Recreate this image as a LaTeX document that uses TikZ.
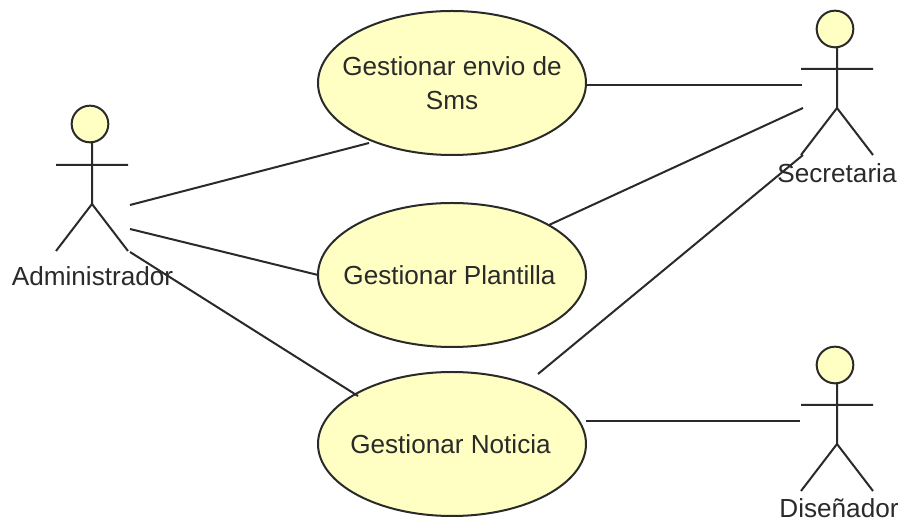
\documentclass[tikz,border=0pt]{standalone}
\usepackage{fontspec}
\setmainfont{Liberation Sans}
\usetikzlibrary{shapes.geometric}
\definecolor{fillY}{HTML}{FFFFC4}
\definecolor{ink}{HTML}{2A2A2A}
\tikzset{
  uc/.style={ellipse,draw=ink,line width=1.5pt,fill=fillY,inner sep=-40pt,outer sep=0pt,minimum width=201pt,minimum height=108pt,align=center,font=\fontsize{19.6}{26}\selectfont,text=ink},
  lbl/.style={font=\fontsize{19.6}{24}\selectfont,inner sep=0pt,text=ink},
  conn/.style={draw=ink,line width=1.5pt},
  head/.style={circle,draw=ink,line width=1.5pt,fill=fillY,minimum size=27.5pt,inner sep=0pt}
}
\begin{document}
\begin{tikzpicture}[x=0.75pt,y=-0.75pt]
\useasboundingbox (0,0) rectangle (903,523);
\fill[white] (0,0) rectangle (903,523);
% use cases
\node[uc] (u1) at (452,83) {Gestionar envio de\\Sms};
\node[uc] (u2) at (452,275) {Gestionar Plantilla\kern3.75pt};
\node[uc] (u3) at (452,444) {Gestionar Noticia\kern2.25pt};
% actors: Administrador
\node[head] (ah) at (90,124) {};
\coordinate (an) at (92,142);
\coordinate (ab) at (92,204);
\coordinate (aal) at (56,165);
\coordinate (aar) at (128,165);
\coordinate (all) at (56,251);
\coordinate (alr) at (128,251);
\draw[conn] (an) -- (ab) (aal) -- (aar) (all) -- (ab) -- (alr);
\node[lbl] (al) at (92.5,276) {Administrador};
% Secretaria
\node[head] (sh) at (835,29) {};
\coordinate (sn) at (837,47);
\coordinate (sb) at (837,108);
\coordinate (sal) at (801,69);
\coordinate (sar) at (873,69);
\coordinate (sll) at (801,155);
\coordinate (slr) at (873,155);
\draw[conn] (sn) -- (sb) (sal) -- (sar) (sll) -- (sb) -- (slr);
\node[lbl] (sl) at (837,173) {Secretaria};
% Disenador
\node[head] (dh) at (835,365) {};
\coordinate (dn) at (837,383);
\coordinate (db) at (837,444);
\coordinate (dal) at (801,405);
\coordinate (dar) at (873,405);
\coordinate (dll) at (801,491);
\coordinate (dlr) at (873,491);
\draw[conn] (dn) -- (db) (dal) -- (dar) (dll) -- (db) -- (dlr);
\node[lbl] (dl) at (839,508) {Diseñador};
% connector ends
\coordinate (a1) at (130,205);
\coordinate (a2) at (130,229);
\coordinate (a3) at (130,252);
\coordinate (s1) at (802,85);
\coordinate (s2) at (803,108);
\coordinate (s3) at (803,155);
\coordinate (d1) at (800,421);
\coordinate (e1) at (369,143);
\coordinate (e2) at (318,275);
\coordinate (e3) at (358,396);
\coordinate (e4) at (586,85);
\coordinate (e5) at (549,225);
\coordinate (e6) at (538,374);
\coordinate (e7) at (586,421);
\draw[conn] (a1) -- (e1);
\draw[conn] (a2) -- (e2);
\draw[conn] (a3) -- (e3);
\draw[conn] (e4) -- (s1);
\draw[conn] (e5) -- (s2);
\draw[conn] (e6) -- (s3);
\draw[conn] (e7) -- (d1);
\end{tikzpicture}
\end{document}
